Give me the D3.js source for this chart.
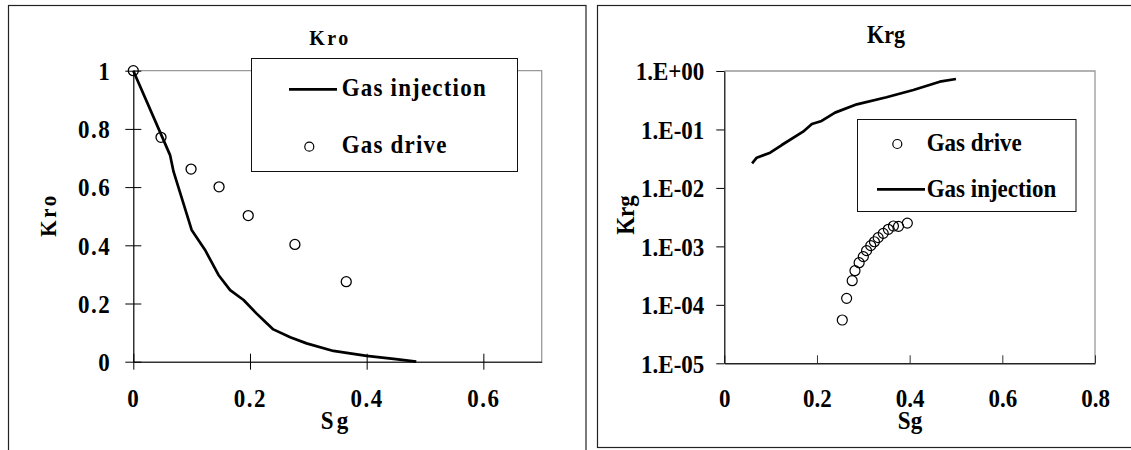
<!DOCTYPE html>
<html>
<head>
<meta charset="utf-8">
<script src="https://cdn.jsdelivr.net/npm/d3@7"></script>
<style>
  html, body { margin: 0; padding: 0; background: #fff; }
  svg { display: block; }
  svg text { font-family: "Liberation Serif", "Times New Roman", serif; font-weight: bold; }
</style>
</head>
<body>
<svg id="chart" width="1131" height="450"></svg>
<script>
// Kro panel: gas injection curve and gas drive points
const kroInjSg = [0, 0.05, 0.063, 0.069, 0.100, 0.123, 0.146, 0.166, 0.189, 0.211, 0.226, 0.240, 0.269, 0.297, 0.343, 0.400, 0.450, 0.485];
const kroInjVal = [1.0, 0.77, 0.71, 0.653, 0.453, 0.384, 0.298, 0.246, 0.212, 0.166, 0.137, 0.111, 0.084, 0.063, 0.037, 0.020, 0.009, 0.0];
const kroDriveSg = [0, 0.0475, 0.099, 0.147, 0.197, 0.277, 0.365];
const kroDriveVal = [1.0, 0.771, 0.662, 0.601, 0.502, 0.403, 0.275];
const kroXTicks = [0, 0.2, 0.4, 0.6];
const kroYTicks = [0, 0.2, 0.4, 0.6, 0.8, 1];

// Krg panel (log scale)
const krgInjSg = [0.060, 0.070, 0.099, 0.124, 0.170, 0.189, 0.210, 0.239, 0.286, 0.350, 0.408, 0.465, 0.500];
const krgInjVal = [0.0264, 0.0329, 0.040, 0.0542, 0.0916, 0.124, 0.140, 0.194, 0.269, 0.355, 0.473, 0.656, 0.73];
const krgDriveSg = [0.2546, 0.264, 0.276, 0.282, 0.291, 0.300, 0.307, 0.316, 0.324, 0.332, 0.343, 0.354, 0.365, 0.376, 0.395];
const krgDriveVal = [5.5e-5, 1.29e-4, 2.59e-4, 3.84e-4, 5.26e-4, 6.67e-4, 8.45e-4, 1.03e-3, 1.2e-3, 1.41e-3, 1.67e-3, 1.96e-3, 2.23e-3, 2.2e-3, 2.5e-3];
const krgXTicks = [0, 0.2, 0.4, 0.6, 0.8];
const krgYTicks = [1e-5, 1e-4, 1e-3, 1e-2, 1e-1, 1];
const krgYLabels = ['1.E-05', '1.E-04', '1.E-03', '1.E-02', '1.E-01', '1.E+00'];

const FONT = '"Liberation Serif", "Times New Roman", serif';
const STRETCH = 1.1; // source text looks slightly taller than it is wide
const svg = d3.select('#chart');

// panel frames
svg.append('rect').attr('x', 8.5).attr('y', 5.5).attr('width', 577.5).attr('height', 520)
  .attr('fill', 'none').attr('stroke', '#222').attr('stroke-width', 1.2);
svg.append('rect').attr('x', 597.5).attr('y', 5.5).attr('width', 600).attr('height', 442)
  .attr('fill', 'none').attr('stroke', '#222').attr('stroke-width', 1.2);

const zip = (a, b) => a.map((v, i) => [v, b[i]]);

// text placed at (x, y) baseline, stretched vertically
function label(g, x, y, txt, size, opts = {}) {
  const rot = opts.rotate ? ' rotate(-90)' : '';
  return g.append('text')
    .attr('transform', `translate(${x},${y})${rot} scale(1,${STRETCH})`)
    .attr('text-anchor', opts.anchor || 'start')
    .attr('font-size', size)
    .attr('letter-spacing', opts.spacing || 0)
    .text(txt);
}

function drawLegend(g, box, items, fontSize, spacing) {
  g.append('rect').attr('x', box.x).attr('y', box.y).attr('width', box.w).attr('height', box.h)
    .attr('fill', '#fff').attr('stroke', '#111').attr('stroke-width', 1);
  items.forEach(it => {
    if (it.type === 'line') {
      g.append('line').attr('x1', it.mx - 24).attr('x2', it.mx + 24).attr('y1', it.my).attr('y2', it.my)
        .attr('stroke', '#000').attr('stroke-width', 2.7);
    } else {
      g.append('circle').attr('cx', it.mx).attr('cy', it.my).attr('r', 4.5)
        .attr('fill', 'none').attr('stroke', '#000').attr('stroke-width', 1.2);
    }
    label(g, it.tx, it.ty, it.label, fontSize, { spacing });
  });
}

function styleTicks(axisG, dx, dy, size, spacing, middle) {
  axisG.attr('font-family', FONT);
  axisG.selectAll('.tick text')
    .attr('x', null).attr('y', null)
    .attr('dy', middle ? '0.35em' : null)
    .attr('transform', `translate(${dx},${dy}) scale(1,${STRETCH})`)
    .attr('font-size', size).attr('letter-spacing', spacing).attr('fill', '#000');
}

// ---------- Kro ----------
{
  const x = d3.scaleLinear().domain([0, 0.7]).range([133.3, 541.7]);
  const y = d3.scaleLinear().domain([0, 1]).range([361.7, 70.7]);
  const g = svg.append('g');

  // gray frame top/right
  g.append('path').attr('d', `M${x(0)},${y(1)}H${x(0.7)}V${y(0)}`)
    .attr('fill', 'none').attr('stroke', '#999').attr('stroke-width', 1.3);

  const xa = g.append('g').attr('transform', `translate(0,${y(0)})`)
    .call(d3.axisBottom(x).tickValues(kroXTicks).tickSize(8).tickSizeOuter(0).tickFormat(d3.format('')));
  xa.select('.domain').attr('stroke', '#333').attr('stroke-width', 1.5);
  xa.selectAll('.tick line').attr('y1', -8).attr('y2', 8).attr('stroke', '#000');
  styleTicks(xa, 0, 45, 23, 1.5, false);

  const ya = g.append('g').attr('transform', `translate(${x(0)},0)`)
    .call(d3.axisLeft(y).tickValues(kroYTicks).tickSize(8).tickSizeOuter(0).tickFormat(d3.format('')));
  ya.select('.domain').attr('stroke', '#000').attr('stroke-width', 1.2);
  ya.selectAll('.tick line').attr('x1', -8).attr('x2', 8).attr('stroke', '#000');
  styleTicks(ya, -22, 0, 23, 1.5, true);

  const line = d3.line().x(d => x(d[0])).y(d => y(d[1]));
  g.append('path').datum(zip(kroInjSg, kroInjVal)).attr('d', line)
    .attr('fill', 'none').attr('stroke', '#000').attr('stroke-width', 2.7).attr('stroke-linejoin', 'round');

  g.selectAll('circle.pt').data(zip(kroDriveSg, kroDriveVal)).join('circle').attr('class', 'pt')
    .attr('cx', d => x(d[0])).attr('cy', d => y(d[1])).attr('r', 5)
    .attr('fill', 'none').attr('stroke', '#000').attr('stroke-width', 1.3);

  drawLegend(g, { x: 251.5, y: 58.5, w: 266, h: 113 }, [
    { type: 'line', mx: 313, my: 89.3, tx: 341.7, ty: 96, label: 'Gas injection' },
    { type: 'circle', mx: 309.3, my: 146.7, tx: 341.7, ty: 153, label: 'Gas drive' }
  ], 23, 1.2);

  label(g, 330, 45, 'Kro', 20, { anchor: 'middle', spacing: 2.5 });
  label(g, 336, 429, 'Sg', 23, { anchor: 'middle', spacing: 3 });
  label(g, 56, 215, 'Kro', 21, { anchor: 'middle', spacing: 2.5, rotate: true });
}

// ---------- Krg ----------
{
  const x = d3.scaleLinear().domain([0, 0.8]).range([724.3, 1095]);
  const y = d3.scaleLog().domain([1e-5, 1]).range([363.3, 71]);
  const g = svg.append('g');

  g.append('path').attr('d', `M${x(0)},${y(1)}H${x(0.8)}V${y(1e-5)}`)
    .attr('fill', 'none').attr('stroke', '#999').attr('stroke-width', 1.3);

  const xa = g.append('g').attr('transform', `translate(0,${y(1e-5)})`)
    .call(d3.axisBottom(x).tickValues(krgXTicks).tickSize(-8).tickSizeOuter(0).tickFormat(d3.format('')));
  xa.select('.domain').attr('stroke', '#222').attr('stroke-width', 1.5);
  xa.selectAll('.tick line').attr('stroke', '#333');
  styleTicks(xa, 0, 44, 23, 0, false);

  const ya = g.append('g').attr('transform', `translate(${x(0)},0)`)
    .call(d3.axisLeft(y).tickValues(krgYTicks).tickSize(8).tickSizeOuter(0)
      .tickFormat((d, i) => krgYLabels[i]));
  ya.select('.domain').attr('stroke', '#000').attr('stroke-width', 1.2);
  ya.selectAll('.tick line').attr('stroke', '#000');
  styleTicks(ya, -20, 0, 23, 0, true);

  const line = d3.line().x(d => x(d[0])).y(d => y(d[1]));
  g.append('path').datum(zip(krgInjSg, krgInjVal)).attr('d', line)
    .attr('fill', 'none').attr('stroke', '#000').attr('stroke-width', 2.7).attr('stroke-linejoin', 'round');

  g.selectAll('circle.pt').data(zip(krgDriveSg, krgDriveVal)).join('circle').attr('class', 'pt')
    .attr('cx', d => x(d[0])).attr('cy', d => y(d[1])).attr('r', 5)
    .attr('fill', 'none').attr('stroke', '#000').attr('stroke-width', 1.2);

  drawLegend(g, { x: 857.5, y: 119.5, w: 218.5, h: 92 }, [
    { type: 'circle', mx: 897.3, my: 144, tx: 926.7, ty: 151, label: 'Gas drive' },
    { type: 'line', mx: 901, my: 189.3, tx: 926.7, ty: 197, label: 'Gas injection' }
  ], 23, 0);

  label(g, 886, 43, 'Krg', 22, { anchor: 'middle' });
  label(g, 910, 429, 'Sg', 23, { anchor: 'middle' });
  label(g, 634, 215, 'Krg', 23, { anchor: 'middle', rotate: true });
}
</script>
</body>
</html>
